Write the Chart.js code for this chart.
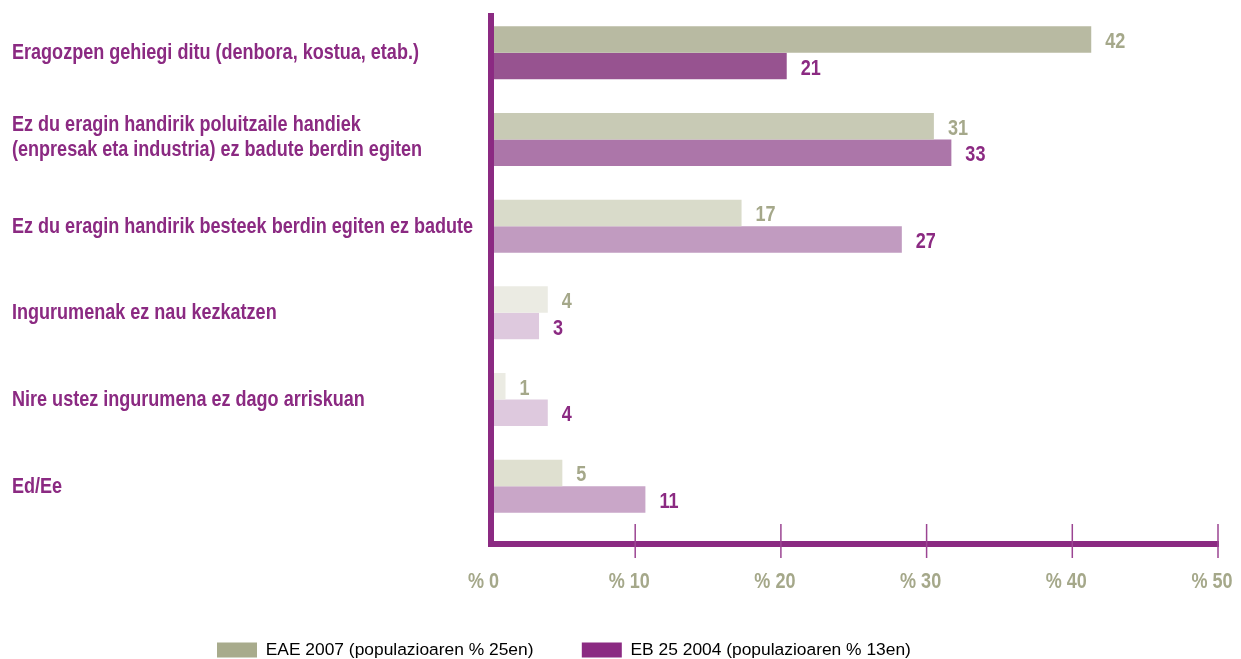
<!DOCTYPE html>
<html>
<head>
<meta charset="utf-8">
<script src="https://cdn.jsdelivr.net/npm/chart.js@4"></script>
<style>
html,body{margin:0;padding:0;background:#fff;}
#wrap{width:1241px;height:659px;}
</style>
</head>
<body>
<div id="wrap"><canvas id="chart" width="1241" height="659"></canvas></div>
<script>
const categories=[
["Eragozpen gehiegi ditu (denbora, kostua, etab.)"],
["Ez du eragin handirik poluitzaile handiek","(enpresak eta industria) ez badute berdin egiten"],
["Ez du eragin handirik besteek berdin egiten ez badute"],
["Ingurumenak ez nau kezkatzen"],
["Nire ustez ingurumena ez dago arriskuan"],
["Ed/Ee"]
];
const seriesNames=["EAE 2007 (populazioaren % 25en)","EB 25 2004 (populazioaren % 13en)"];

// bar lengths as drawn in the picture
const eae2007=[41.3,30.5,17.3,4.0,1.1,5.0];
const eb2004=[20.4,31.7,28.3,3.4,4.0,10.7];

// figures printed next to the bars
const eae2007Labels=[42,31,17,4,1,5];
const eb2004Labels=[21,33,27,3,4,11];

const xTicks=[0,10,20,30,40,50];

const FONT='"Liberation Sans",Arial,sans-serif';
const NARROW=0.82; // the original uses a condensed face
const PURPLE='#8b2a82';
const OLIVE='#a5a88a';
const eaeColors=['#b8baa2','#c8cab5','#d9dbca','#ebebe3','#ebebe3','#dfe0d0'];
const ebColors=['#975390','#ac76a9','#c19bc0','#dec9de','#dec9de','#c9a6c8'];
const legendColors=['#a8ab8c','#8b2a82'];

Chart.defaults.font.family=FONT;

function narrowText(ctx,t,x,y){
const w=ctx.measureText(t).width;
ctx.fillText(t,x,y,w*NARROW);
}

const decor={
id:'decor',
afterDatasetsDraw(chart){
const ctx=chart.ctx;
const xs=chart.scales.x, ys=chart.scales.y, a=chart.chartArea;
ctx.save();

// category names on the left
ctx.font='bold 22px '+FONT;
ctx.fillStyle=PURPLE;
ctx.textAlign='left';
ctx.textBaseline='middle';
categories.forEach((lines,i)=>{
let yc=ys.getPixelForValue(i)+0.5-(lines.length-1)*15;
lines.forEach((t,k)=>narrowText(ctx,t,12,yc+k*25));
});

// printed values
const printed=[eae2007Labels,eb2004Labels];
const cols=[OLIVE,PURPLE];
chart.data.datasets.forEach((ds,d)=>{
chart.getDatasetMeta(d).data.forEach((bar,i)=>{
ctx.fillStyle=cols[d];
narrowText(ctx,String(printed[d][i]),bar.x+14,bar.y+2.5);
});
});

// L shaped axis with ticks
const x0=xs.getPixelForValue(0), x1=xs.getPixelForValue(50);
const yb=a.bottom+14.5;
ctx.fillStyle=PURPLE;
ctx.fillRect(x0-1.5,a.top+3.5,6,yb+3-(a.top+3.5));
ctx.fillRect(x0-1.5,yb-3,x1-x0+2.5,6);
ctx.strokeStyle='#9b4592';
ctx.lineWidth=1.5;
xTicks.forEach(v=>{
if(!v) return;
const px=xs.getPixelForValue(v);
ctx.beginPath();
ctx.moveTo(px,yb-20);
ctx.lineTo(px,yb+14);
ctx.stroke();
});

// tick labels
ctx.fillStyle=OLIVE;
ctx.textAlign='center';
xTicks.forEach(v=>{
narrowText(ctx,"% "+v,xs.getPixelForValue(v)-6,yb+38);
});

ctx.restore();
}
};

new Chart(document.getElementById("chart"),{
type:"bar",
data:{
labels:categories,
datasets:[
{label:seriesNames[0],data:eae2007,backgroundColor:eaeColors},
{label:seriesNames[1],data:eb2004,backgroundColor:ebColors}
]
},
options:{
indexAxis:"y",
responsive:false,
animation:false,
layout:{padding:{left:168.7,right:23,top:9.5,bottom:-9.7}},
datasets:{bar:{barPercentage:1,categoryPercentage:0.6116,borderWidth:0}},
scales:{
x:{
min:0,max:50,
afterBuildTicks(s){s.ticks=xTicks.map(v=>({value:v}));},
afterFit(s){s.height=63.5;},
grid:{display:false,drawTicks:false},
border:{display:false},
ticks:{display:false}
},
y:{
afterFit(s){s.width=320.8;},
grid:{display:false,drawTicks:false},
border:{display:false},
ticks:{display:false}
}
},
plugins:{
tooltip:{enabled:false},
legend:{
position:"bottom",
align:"start",
labels:{
boxWidth:40,
boxHeight:15,
padding:48.3,
color:"#3c3c3c",
font:{size:17.4},
generateLabels:()=>seriesNames.map((t,i)=>({
text:t,fillStyle:legendColors[i],strokeStyle:legendColors[i],lineWidth:0,hidden:false,datasetIndex:i
}))
}
}
}
},
plugins:[decor]
});
</script>
</body>
</html>
